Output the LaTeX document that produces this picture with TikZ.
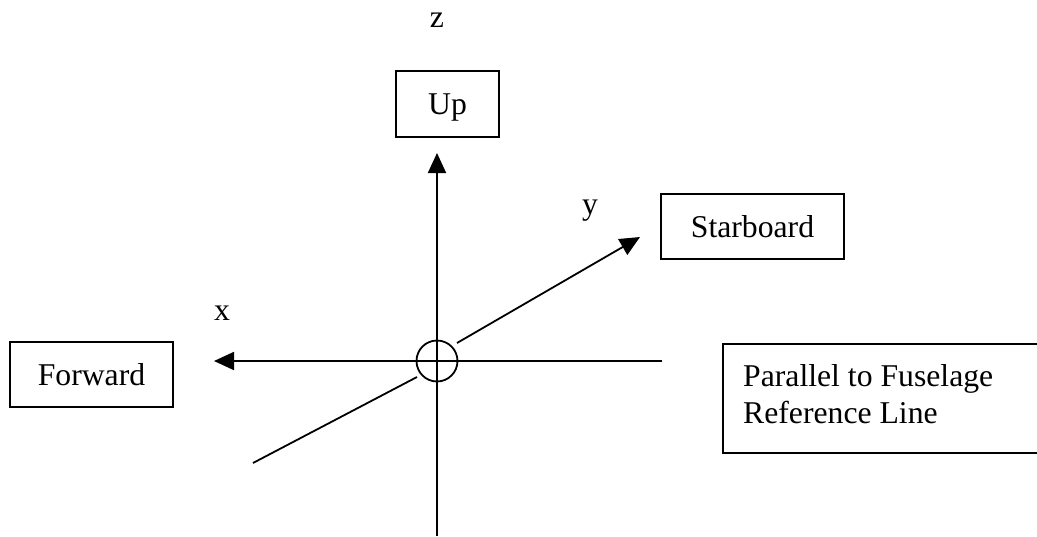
\documentclass[tikz,border=0pt]{standalone}
\usepackage{fontspec}
\setmainfont{Liberation Serif}
\usetikzlibrary{arrows.meta}
\begin{document}
\begin{tikzpicture}[x=1pt,y=-1pt,
  every node/.style={font=\fontsize{31.7}{37}\selectfont},
  lbox/.style={draw, line width=1.6pt, rectangle, inner sep=0pt, text height=21pt, text depth=0pt},
  lbl/.style={inner sep=0pt, anchor=base},
  axis/.style={line width=1.8pt, -{Triangle[length=20pt,width=18pt]}},
  plain/.style={line width=1.8pt}]
\useasboundingbox[fill=white] (0,0) rectangle (1037,536);
% boxes
\node[lbox, minimum width=103pt, minimum height=66pt] (up) at (447.5,104) {Up};
\node[lbox, minimum width=183pt, minimum height=65pt] (star) at (752.5,226.5) {Starboard};
\node[lbox, minimum width=163pt, minimum height=65pt] (fwd) at (91.5,374.5) {Forward};
\node[draw, line width=1.6pt, rectangle, inner sep=0pt, anchor=north west, minimum width=340pt, minimum height=109pt] (par) at (722,343) {};
\node[inner sep=0pt, anchor=base west] (par1) at (743,386) {Parallel to Fuselage};
\node[inner sep=0pt, anchor=base west] (par2) at (743,423) {Reference Line};
% axis labels
\node[lbl] (zl) at (437,27) {z};
\node[lbl] (yl) at (590,214) {y};
\node[lbl] (xl) at (222,320) {x};
% origin
\node[draw, circle, line width=1.8pt, minimum size=41pt, inner sep=0pt] (o) at (437,361) {};
% axis endpoints
\coordinate (zbot) at (437,536);
\coordinate (ztip) at (437,153);
\coordinate (xend) at (662,361);
\coordinate (xtip) at (214,361);
\coordinate (ylow) at (253,463);
\coordinate (ylowin) at (417,377);
\coordinate (yupin) at (457,343);
\coordinate (ytip) at (640,237);
% axes
\draw[axis] (zbot) -- (ztip);
\draw[axis] (xend) -- (xtip);
\draw[plain] (ylow) -- (ylowin);
\draw[axis] (yupin) -- (ytip);
\end{tikzpicture}
\end{document}
